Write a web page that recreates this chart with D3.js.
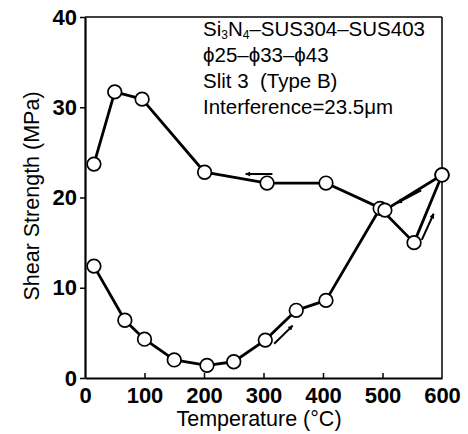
<!DOCTYPE html>
<html>
<head>
<meta charset="utf-8">
<title>Shear strength vs temperature</title>
<style>
  body { margin: 0; background: #fff; }
  text { font-family: "Liberation Sans", Arial, sans-serif; fill: #000; }
  .label { font-size: 21.5px; }
  .note { font-size: 20.5px; white-space: pre; }
</style>
</head>
<body>
<svg width="468" height="434"></svg>
<script src="https://d3js.org/d3.v7.min.js"></script>
<script>
// heating run (arrow up-right)
var heatT = [15, 67, 100, 150, 205, 250, 303, 355, 405, 496, 553, 600];
var heatS = [12.4, 6.4, 4.3, 2.0, 1.4, 1.8, 4.2, 7.5, 8.6, 18.8, 15.0, 22.5];
// cooling run (arrow left)
var coolT = [600, 504, 405, 306, 201, 96, 50, 15];
var coolS = [22.5, 18.6, 21.6, 21.6, 22.8, 30.9, 31.7, 23.7];

var xTicks = [0, 100, 200, 300, 400, 500, 600];
var yTicks = [0, 10, 20, 30, 40];

// direction arrows: [t1, s1, t2, s2], head at second point
var arrows = [
  [315, 22.6, 270, 22.6],
  [565, 20.8, 525, 19.4],
  [566, 15.3, 586, 18.2],
  [318, 3.8, 349, 5.8]
];

var notes = ["Si|3|N|4|–SUS304–SUS403", "ϕ25–ϕ33–ϕ43", "Slit 3  (Type B)", "Interference=23.5μm"];

var svg = d3.select("svg");
var x = d3.scaleLinear().domain([0, 600]).range([85, 442]);
var y = d3.scaleLinear().domain([0, 40]).range([378, 17]);

// frame
svg.append("line").attr("x1", 85).attr("x2", 442).attr("y1", 17).attr("y2", 17)
  .attr("stroke", "#000").attr("stroke-width", 1.5);
svg.append("line").attr("x1", 442).attr("x2", 442).attr("y1", 17).attr("y2", 378)
  .attr("stroke", "#000").attr("stroke-width", 1.5);

var xAxis = svg.append("g").attr("transform", "translate(0,378)")
  .call(d3.axisBottom(x).tickValues(xTicks).tickSizeInner(-5).tickSizeOuter(0).tickPadding(9));
var yAxis = svg.append("g").attr("transform", "translate(85,0)")
  .call(d3.axisLeft(y).tickValues(yTicks).tickSizeInner(5).tickSizeOuter(0).tickPadding(3));
xAxis.select(".domain").attr("stroke-width", 2.2);
yAxis.select(".domain").attr("stroke-width", 2.2);
xAxis.selectAll(".tick line").attr("stroke-width", 1.5)
  .filter(function(d) { return d === 0 || d === 600; }).remove();
yAxis.selectAll(".tick line").attr("stroke-width", 1.5);
xAxis.selectAll(".tick text").attr("dy", "0.71em");
svg.selectAll(".tick text").style("font-size", "22px").style("font-weight", "bold")
  .style("font-family", "'Liberation Sans', Arial, sans-serif");

// axis titles
svg.append("text").attr("class", "label").attr("x", 259).attr("y", 426)
  .attr("text-anchor", "middle").text("Temperature (°C)");
svg.append("text").attr("class", "label")
  .attr("transform", "translate(39,196) rotate(-90)")
  .attr("text-anchor", "middle").text("Shear Strength (MPa)");

// curves
var line = d3.line().x(function(d) { return x(d[0]); }).y(function(d) { return y(d[1]); });
var heat = heatT.map(function(t, i) { return [t, heatS[i]]; });
var cool = coolT.map(function(t, i) { return [t, coolS[i]]; });
[heat, cool].forEach(function(pts) {
  svg.append("path").attr("d", line(pts)).attr("fill", "none")
    .attr("stroke", "#000").attr("stroke-width", 2.8).attr("stroke-linejoin", "round");
});
[heat, cool].forEach(function(pts) {
  svg.append("g").selectAll("circle").data(pts).enter().append("circle")
    .attr("cx", function(d) { return x(d[0]); })
    .attr("cy", function(d) { return y(d[1]); })
    .attr("r", 6.8).attr("fill", "#fff").attr("stroke", "#000").attr("stroke-width", 1.7);
});

// arrows
svg.append("defs").append("marker").attr("id", "head")
  .attr("viewBox", "0 0 10 10").attr("refX", 9).attr("refY", 5)
  .attr("markerWidth", 9).attr("markerHeight", 5).attr("orient", "auto")
  .attr("markerUnits", "userSpaceOnUse")
  .append("path").attr("d", "M0,0L10,5L0,10Z").attr("fill", "#000");
svg.append("g").selectAll("line").data(arrows).enter().append("line")
  .attr("x1", function(d) { return x(d[0]); }).attr("y1", function(d) { return y(d[1]); })
  .attr("x2", function(d) { return x(d[2]); }).attr("y2", function(d) { return y(d[3]); })
  .attr("stroke", "#000").attr("stroke-width", 2).attr("marker-end", "url(#head)");

// note block
var nb = svg.append("g");
notes.forEach(function(s, i) {
  var t = nb.append("text").attr("class", "note").attr("x", 203).attr("y", 36 + i * 26);
  var parts = s.split("|");
  parts.forEach(function(p, j) {
    var ts = t.append("tspan").text(p);
    if (j % 2 === 1) ts.style("font-size", "12px").attr("dy", 3);
    else if (j > 0) ts.attr("dy", -3);
  });
});
</script>
</body>
</html>
